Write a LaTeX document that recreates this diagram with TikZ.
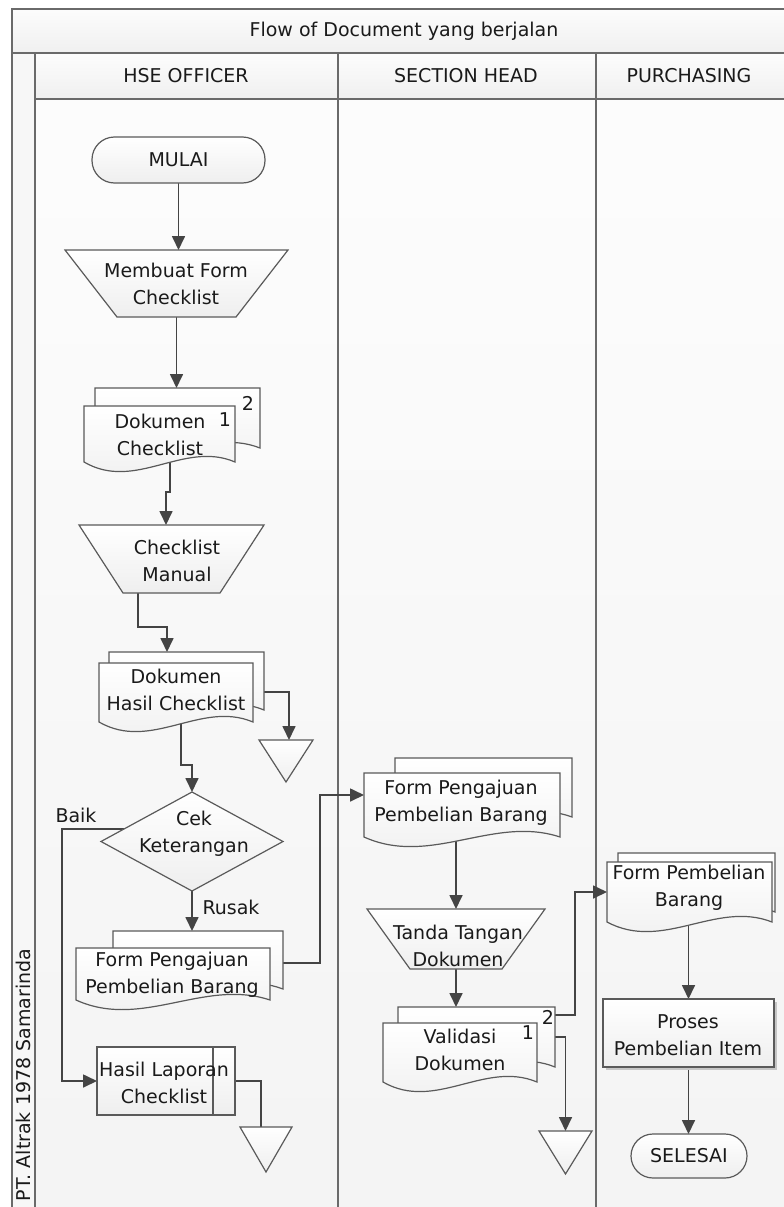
\documentclass[tikz,border=0pt]{standalone}
\usepackage{fontspec}
\setmainfont{DejaVu Sans}
\usetikzlibrary{arrows.meta,calc}
\pgfdeclarelayer{bg}
\pgfdeclarelayer{lines}
\pgfsetlayers{bg,lines,main}
\definecolor{ln}{HTML}{444444}
\definecolor{shpln}{HTML}{5A5A5A}
\definecolor{frm}{HTML}{6A6A6A}
\definecolor{txt}{HTML}{1A1A1A}
\tikzset{
  box/.style={rectangle, draw=none, inner sep=0pt, outer sep=0pt},
  shp/.style={draw=shpln, line width=1.2pt, top color=white, bottom color=gray!13},
  conn/.style={draw=ln, line width=1.7pt},
  arr/.style={conn, -{Triangle[length=14pt,width=13pt]}},
  lbl/.style={text=txt, font=\fontsize{19}{27}\selectfont, align=center, inner sep=0pt},
  framestyle/.style={draw=frm, line width=1.6pt},
}
\newcommand{\mkbox}[5]{\node[box, minimum width={#3-#2}, minimum height={#5-#4}] (#1) at ({(#2+#3)/2},{(#4+#5)/2}) {};}
\newcommand{\mkdoc}[5]{\mkbox{#1}{#2}{#3}{#4}{#5}\path[shp] (#2,#4) -- (#3,#4) -- (#3,#5) .. controls ({#3-0.34*(#3-#2)},{#5-22}) and ({#2+0.34*(#3-#2)},{#5+30}) .. (#2,#5) -- cycle;}
\newcommand{\mktrap}[6]{\mkbox{#1}{#2}{#3}{#4}{#5}\path[shp] (#2,#4) -- (#3,#4) -- ({#3-#6},#5) -- ({#2+#6},#5) -- cycle;}
\newcommand{\mktri}[5]{\mkbox{#1}{#2}{#3}{#4}{#5}\path[shp] (#2,#4) -- (#3,#4) -- ({(#2+#3)/2},#5) -- cycle;}
\begin{document}
\begin{tikzpicture}[x=1pt,y=-1pt]
\useasboundingbox (0,0) rectangle (784,1207);
\begin{pgfonlayer}{bg}
\fill[white] (0,0) rectangle (784,1207);
\shade[top color=gray!2, bottom color=gray!9] (35,99) rectangle (800,1220);
\fill[gray!6] (12,53) rectangle (35,1220);
\shade[top color=gray!2, bottom color=gray!12] (12,9) rectangle (800,53);
\shade[top color=gray!2, bottom color=gray!12] (35,53) rectangle (800,99);
\draw[framestyle] (12,1220) -- (12,9) -- (800,9);
\draw[framestyle] (12,53) -- (800,53);
\draw[framestyle] (35,99) -- (800,99);
\draw[framestyle] (35,53) -- (35,1220);
\draw[framestyle] (338,53) -- (338,1220);
\draw[framestyle] (596,53) -- (596,1220);
\end{pgfonlayer}

% shapes
\mkbox{mulai}{92}{265}{137}{183}
\path[shp, rounded corners=22.5pt] (mulai.north west) rectangle (mulai.south east);
\mktrap{membuat}{65}{288}{250}{317}{52}
\mkdoc{dokcekb}{95}{260}{388}{448}
\mkdoc{dokcek}{84}{235}{406}{462}
\mktrap{manual}{79}{264}{525}{593}{44}
\mkdoc{dochasilb}{109}{264}{652}{710}
\mkdoc{dochasil}{99}{253}{663}{722}
\mktri{tri1}{259}{313}{740}{782}
\mkbox{dia}{101}{283}{792}{891}
\path[shp] (dia.north) -- (dia.east) -- (dia.south) -- (dia.west) -- cycle;
\mkdoc{formb}{113}{283}{931}{989}
\mkdoc{form}{76}{270}{948}{1000}
\mkbox{lap}{97}{235}{1047}{1115}
\path[shp] (lap.north west) rectangle (lap.south east);
\draw[draw=shpln, line width=1.2pt] ($(lap.north east)+(-22,0)$) -- ($(lap.south east)+(-22,0)$);
\mktri{tri2}{240}{292}{1127}{1172}
\mkdoc{shformb}{395}{572}{758}{817}
\mkdoc{shform}{364}{560}{773}{837}
\mktrap{ttd}{367}{545}{909}{969}{43}
\mkdoc{valb}{398}{555}{1007}{1067}
\mkdoc{val}{383}{537}{1023}{1082}
\mktri{tri3}{539}{592}{1131}{1174}
\mkdoc{pblb}{618}{775}{853}{912}
\mkdoc{pbl}{607}{772}{862}{922}
\mkbox{proses}{603}{774}{999}{1067}
\fill[gray!45] ($(proses.north west)+(3,3)$) rectangle ($(proses.south east)+(3,3)$);
\path[shp] (proses.north west) rectangle (proses.south east);
\mkbox{selesai}{631}{747}{1134}{1178}
\path[shp, rounded corners=22pt] (selesai.north west) rectangle (selesai.south east);

% texts
\node[lbl] (t-title) at (404,31) {Flow of Document yang berjalan};
\node[lbl] (t-h1) at (186,76) {HSE OFFICER};
\node[lbl] (t-h2) at (466,76) {SECTION HEAD};
\node[lbl] (t-h3) at (689,76) {PURCHASING};
\node[lbl, rotate=90] (t-org) at (23.5,1075) {PT. Altrak 1978 Samarinda};
\node[lbl] (t-mulai) at (178.5,160) {MULAI};
\node[lbl] (t-membuat) at (176,284) {Membuat Form\\Checklist};
\node[lbl] (t-dokcek) at (160,435) {Dokumen\\Checklist};
\node[lbl] (t-n1a) at (225,420) {1};
\node[lbl] (t-n2a) at (248,403) {2};
\node[lbl] (t-manual) at (177,561) {Checklist\\Manual};
\node[lbl] (t-dochasil) at (176,690) {Dokumen\\Hasil Checklist};
\node[lbl] (t-dia) at (194,834) {Cek\\Keterangan};
\node[lbl] (t-baik) at (76,815) {Baik};
\node[lbl] (t-rusak) at (231,907) {Rusak};
\node[lbl] (t-form) at (172,975) {Form Pengajuan\\Pembelian Barang};
\node[lbl] (t-lap) at (164,1083) {Hasil Laporan\\Checklist};
\node[lbl] (t-shform) at (461,803) {Form Pengajuan\\Pembelian Barang};
\node[lbl] (t-ttd) at (458,946) {Tanda Tangan\\Dokumen};
\node[lbl] (t-val) at (460,1050) {Validasi\\Dokumen};
\node[lbl] (t-n1b) at (528,1033) {1};
\node[lbl] (t-n2b) at (548,1017) {2};
\node[lbl] (t-pbl) at (689,888) {Form Pembelian\\Barang};
\node[lbl] (t-proses) at (688,1035) {Proses\\Pembelian Item};
\node[lbl] (t-selesai) at (689,1156) {SELESAI};

\begin{pgfonlayer}{lines}
\draw[arr] (mulai.south) -- (mulai.south |- membuat.north);
\draw[arr] (membuat.south) -- (membuat.south |- dokcekb.north);
\draw[arr] ($(dokcek.south)+(10.5,-10)$) -- ++(0,40) -| ($(manual.north)+(-5.5,0)$);
\draw[arr] ($(manual.south)+(-33.5,-5)$) -- ++(0,39) -| ($(dochasilb.north)+(-19.5,0)$);
\draw[arr] ($(dochasilb.east)+(-5,11)$) -| ($(tri1.north)+(3,0)$);
\draw[arr] ($(dochasil.south)+(5,-10)$) -- ++(0,53) -| (dia.north);
\draw[arr] ($(dia.west)!0.25!(dia.north)$) -- ++(-62,0) |- (lap.west);
\draw[arr] (dia.south) -- (dia.south |- formb.north);
\draw[arr] ($(formb.east)+(-5,3)$) -- ++(42,0) |- ($(shform.west)+(0,-10)$);
\draw[arr] (shform.center -| ttd.north) -- (ttd.north);
\draw[arr] (ttd.south) -- (ttd.south |- valb.north);
\draw[arr] ($(valb.east)+(-5,-22)$) -- ++(25,0) |- (pbl.west);
\draw[arr] ($(valb.east)+(-5,0)$) -| (tri3.north);
\draw[arr] (pbl.center -| proses.north) -- (proses.north);
\draw[arr] (proses.south) -- (proses.south |- selesai.north);
\draw[conn] ($(lap.east)+(-5,0)$) -| ($(tri2.north)+(-5,0)$);
\end{pgfonlayer}
\end{tikzpicture}
\end{document}
